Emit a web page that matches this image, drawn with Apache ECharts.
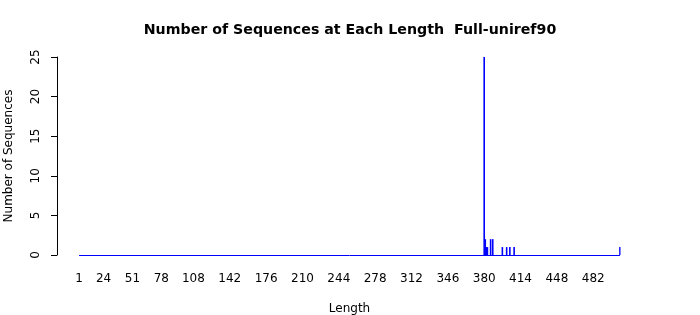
<!DOCTYPE html>
<html>
<head>
<meta charset="utf-8">
<script src="https://cdn.jsdelivr.net/npm/echarts@6/dist/echarts.min.js"></script>
<style>html,body{margin:0;padding:0;background:#fff}#c{width:700px;height:315px}</style>
</head>
<body>
<div id="c"></div>
<script>
// Data
var minLength = 1;
var maxLength = 507;
var barLengths = [380, 381, 382, 383, 386, 388, 397, 401, 404, 408, 507];
var barCounts  = [25,  2,   1,   1,   2,   2,   1,   1,   1,   1,   1];
var xTickLabels = [1, 24, 51, 78, 108, 142, 176, 210, 244, 278, 312, 346, 380, 414, 448, 482];
var yTicks = [0, 5, 10, 15, 20, 25];

var categories = [];
var values = [];
for (var L = minLength; L <= maxLength; L++) {
  categories.push(String(L));
  var k = barLengths.indexOf(L);
  values.push(k >= 0 ? barCounts[k] : 0);
}
var tickSet = {};
xTickLabels.forEach(function (t) { tickSet[String(t)] = true; });

var font = 'DejaVu Sans';
var chart = echarts.init(document.getElementById('c'), null, {renderer: 'canvas'});
chart.setOption({
  animation: false,
  backgroundColor: '#fff',
  title: {
    text: 'Number of Sequences at Each Length  Full-uniref90',
    left: 'center',
    top: 18,
    textStyle: {fontFamily: font, fontSize: 14.2, fontWeight: 'bold', color: '#000'}
  },
  grid: {left: 78.5, top: 57, width: 542, height: 198, containLabel: false, outerBoundsMode: 'none'},
  xAxis: {
    type: 'category',
    data: categories,
    boundaryGap: true,
    name: 'Length',
    nameLocation: 'middle',
    nameGap: 48,
    nameTextStyle: {fontFamily: font, fontSize: 12, color: '#000'},
    axisLine: {show: false},
    axisTick: {show: false},
    axisLabel: {
      interval: function (idx, val) { return !!tickSet[val]; },
      margin: 18,
      fontFamily: font, fontSize: 12, color: '#000'
    },
    splitLine: {show: false}
  },
  yAxis: {
    type: 'value',
    min: yTicks[0],
    max: yTicks[yTicks.length - 1],
    interval: yTicks[1] - yTicks[0],
    offset: 21.5,
    name: 'Number of Sequences',
    nameLocation: 'middle',
    nameRotate: 90,
    nameGap: 42,
    nameTextStyle: {fontFamily: font, fontSize: 12, color: '#000'},
    axisLine: {show: true, lineStyle: {color: '#000', width: 1}},
    axisTick: {show: true, length: 6, lineStyle: {color: '#000'}},
    axisLabel: {rotate: 90, margin: 15, fontFamily: font, fontSize: 12, color: '#000'},
    splitLine: {show: false}
  },
  series: [{
    type: 'bar',
    data: values,
    barWidth: 1.6,
    itemStyle: {color: '#0000ff'},
    markLine: {
      silent: true,
      symbol: 'none',
      label: {show: false},
      lineStyle: {color: '#0000ff', width: 1, type: 'solid'},
      data: [[{xAxis: categories[0], yAxis: 0}, {xAxis: categories[categories.length - 1], yAxis: 0}]]
    }
  }]
});
</script>
</body>
</html>
